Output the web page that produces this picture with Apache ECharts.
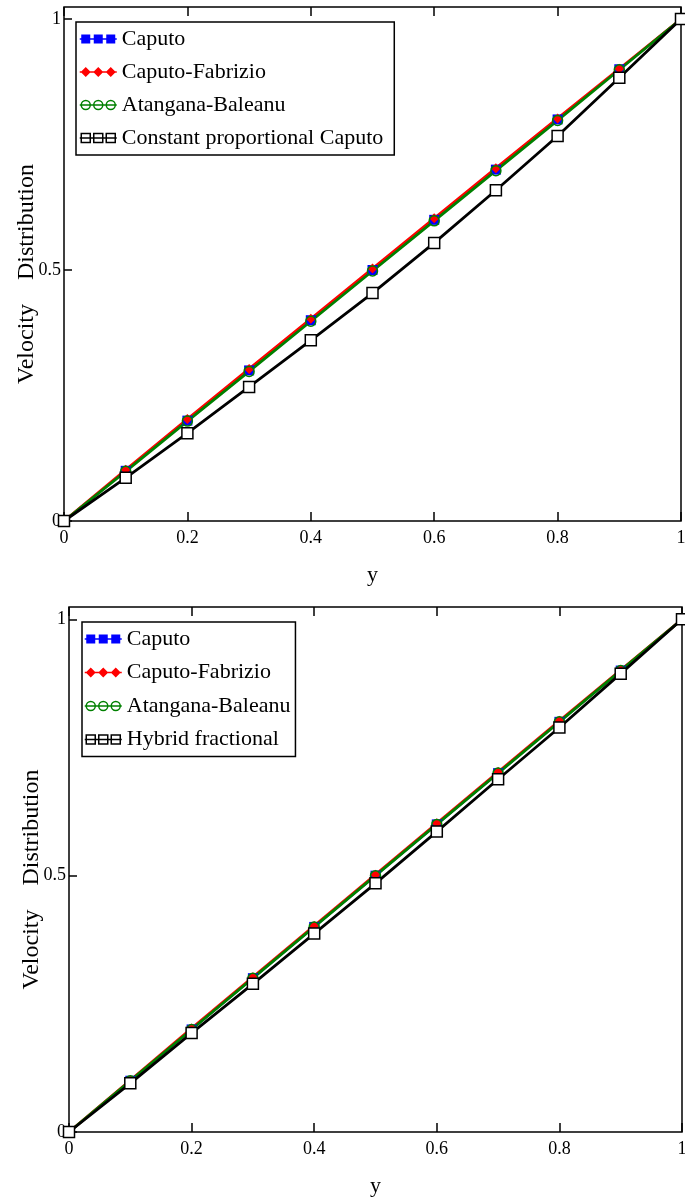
<!DOCTYPE html>
<html>
<head>
<meta charset="utf-8">
<script src="https://cdn.jsdelivr.net/npm/echarts@6/dist/echarts.min.js"></script>
<style>
  html, body { margin: 0; padding: 0; background: #fff; }
  #chart { width: 685px; height: 1200px; }
</style>
</head>
<body>
<div id="chart"></div>
<script>
// ---- data ----
const xValues = [0, 0.1, 0.2, 0.3, 0.4, 0.5, 0.6, 0.7, 0.8, 0.9, 1];
const xTickLabels = ['0', '0.2', '0.4', '0.6', '0.8', '1'];
const yTickValues = [0, 0.5, 1];

// top panel
const caputoTop = [0, 0.100, 0.200, 0.300, 0.400, 0.500, 0.600, 0.700, 0.800, 0.900, 1];
const cfTop     = [0, 0.102, 0.203, 0.303, 0.403, 0.503, 0.603, 0.703, 0.802, 0.901, 1];
const abTop     = [0, 0.099, 0.199, 0.298, 0.398, 0.498, 0.598, 0.698, 0.798, 0.899, 1];
const cpcTop    = [0, 0.086, 0.175, 0.267, 0.360, 0.454, 0.554, 0.659, 0.767, 0.883, 1];

// bottom panel
const caputoBot = [0, 0.100, 0.200, 0.300, 0.400, 0.500, 0.600, 0.700, 0.800, 0.900, 1];
const cfBot     = [0, 0.101, 0.202, 0.302, 0.402, 0.502, 0.602, 0.702, 0.802, 0.901, 1];
const abBot     = [0, 0.100, 0.200, 0.300, 0.400, 0.500, 0.600, 0.700, 0.800, 0.900, 1];
const hybridBot = [0, 0.095, 0.193, 0.289, 0.387, 0.485, 0.586, 0.688, 0.789, 0.894, 1];

const namesTop = ['Caputo', 'Caputo-Fabrizio', 'Atangana-Baleanu', 'Constant proportional Caputo'];
const namesBot = ['Caputo', 'Caputo-Fabrizio', 'Atangana-Baleanu', 'Hybrid fractional'];
const yAxisTitle = 'Velocity    Distribution';
const xAxisTitle = 'y';

// ---- styling ----
const FONT = 'Liberation Serif';
const BLUE = '#0000ff', RED = '#ff0000', GREEN = '#008000', BLACK = '#000000';

const pairs = (ys) => xValues.map((x, i) => [x, ys[i]]);

// legend icons (line with three markers), 37 x 10
const iconSquares = 'path://M0,4.2L37,4.2L37,5.8L0,5.8Z M1.5,0.5L10.5,0.5L10.5,9.5L1.5,9.5Z M14,0.5L23,0.5L23,9.5L14,9.5Z M26.5,0.5L35.5,0.5L35.5,9.5L26.5,9.5Z';
const iconDiamonds = 'path://M0,4.2L37,4.2L37,5.8L0,5.8Z M6,0L11,5L6,10L1,5Z M18.5,0L23.5,5L18.5,10L13.5,5Z M31,0L36,5L31,10L26,5Z';
const iconCircles = 'path://M0,5L37,5 M10.5,5A4.5,4.5,0,1,1,1.5,5A4.5,4.5,0,1,1,10.5,5Z M23,5A4.5,4.5,0,1,1,14,5A4.5,4.5,0,1,1,23,5Z M35.5,5A4.5,4.5,0,1,1,26.5,5A4.5,4.5,0,1,1,35.5,5Z';
const iconOpenSquares = 'path://M0,5L37,5 M1.5,0.5L10.5,0.5L10.5,9.5L1.5,9.5Z M14,0.5L23,0.5L23,9.5L14,9.5Z M26.5,0.5L35.5,0.5L35.5,9.5L26.5,9.5Z';

function legendData(names) {
  return [
    { name: names[0], icon: iconSquares, itemStyle: { color: BLUE, borderWidth: 0 } },
    { name: names[1], icon: iconDiamonds, itemStyle: { color: RED, borderWidth: 0 } },
    { name: names[2], icon: iconCircles, itemStyle: { color: 'rgba(0,0,0,0)', borderColor: GREEN, borderWidth: 1.5 } },
    { name: names[3], icon: iconOpenSquares, itemStyle: { color: 'rgba(0,0,0,0)', borderColor: BLACK, borderWidth: 1.5 } }
  ];
}

function makeSeries(names, data, xIdx, yIdx) {
  return [
    { name: names[0], type: 'line', xAxisIndex: xIdx, yAxisIndex: yIdx, data: pairs(data[0]),
      symbol: 'rect', symbolSize: 10, itemStyle: { color: BLUE }, lineStyle: { color: BLUE, width: 2 } },
    { name: names[1], type: 'line', xAxisIndex: xIdx, yAxisIndex: yIdx, data: pairs(data[1]),
      symbol: 'diamond', symbolSize: 10, itemStyle: { color: RED }, lineStyle: { color: RED, width: 2.8 } },
    { name: names[2], type: 'line', xAxisIndex: xIdx, yAxisIndex: yIdx, data: pairs(data[2]),
      symbol: 'circle', symbolSize: 10, itemStyle: { color: 'rgba(0,0,0,0)', borderColor: GREEN, borderWidth: 1.5 },
      lineStyle: { color: GREEN, width: 2.8 } },
    { name: names[3], type: 'line', xAxisIndex: xIdx, yAxisIndex: yIdx, data: pairs(data[3]),
      symbol: 'rect', symbolSize: 11, itemStyle: { color: '#ffffff', borderColor: BLACK, borderWidth: 1.5 },
      lineStyle: { color: BLACK, width: 2.8 } }
  ];
}

function xBottom(gridIndex) {
  return {
    type: 'value', gridIndex, position: 'bottom', min: 0, max: 1, interval: 0.2,
    name: xAxisTitle, nameLocation: 'middle', nameGap: 43, nameMoveOverlap: false,
    nameTextStyle: { fontFamily: FONT, fontSize: 22, color: '#000' },
    axisLine: { show: false },
    axisTick: { show: true, inside: true, length: 9, lineStyle: { color: '#000', width: 1.5 } },
    axisLabel: { show: true, margin: 8, fontFamily: FONT, fontSize: 18, color: '#000',
      formatter: (v) => { const i = Math.round(v / 0.2); return xTickLabels[i] !== undefined ? xTickLabels[i] : ''; } },
    splitLine: { show: false }
  };
}
function xTop(gridIndex) {
  return {
    type: 'value', gridIndex, position: 'top', min: 0, max: 1, interval: 0.2,
    axisLine: { show: false },
    axisTick: { show: true, inside: true, length: 9, lineStyle: { color: '#000', width: 1.5 } },
    axisLabel: { show: false },
    splitLine: { show: false }
  };
}
function yLeft(gridIndex) {
  return {
    type: 'value', gridIndex, min: 0, max: 1.024, interval: 0.5,
    name: yAxisTitle, nameLocation: 'middle', nameGap: 25, nameRotate: 90, nameMoveOverlap: false,
    nameTextStyle: { fontFamily: FONT, fontSize: 24, color: '#000', padding: [0, 20, 0, 0] },
    axisLine: { show: false },
    axisTick: { show: true, inside: true, length: 8, customValues: yTickValues, lineStyle: { color: '#000', width: 1.5 } },
    axisLabel: { show: true, margin: 3, fontFamily: FONT, fontSize: 18, color: '#000', customValues: yTickValues,
      formatter: (v) => (yTickValues.indexOf(v) >= 0 ? String(v) : '') },
    splitLine: { show: false }
  };
}

const legendCommon = {
  orient: 'vertical', backgroundColor: '#ffffff', borderColor: '#000', borderWidth: 1.5,
  itemWidth: 37, itemHeight: 10,
  textStyle: { fontFamily: FONT, fontSize: 22, color: '#000', lineHeight: 22 },
  selectedMode: false
};

const gridCommon = { show: true, borderColor: '#000', borderWidth: 1.5, backgroundColor: 'rgba(0,0,0,0)',
  containLabel: false, outerBoundsMode: 'none' };

const option = {
  animation: false,
  backgroundColor: '#ffffff',
  grid: [
    Object.assign({ left: 64, right: 4, top: 7, bottom: 679 }, gridCommon),
    Object.assign({ left: 69, right: 3, top: 607, bottom: 68 }, gridCommon)
  ],
  xAxis: [xBottom(0), xTop(0), xBottom(1), xTop(1)],
  yAxis: [yLeft(0), yLeft(1)],
  legend: [
    Object.assign({}, legendCommon, { left: 76, top: 22, padding: [6, 11, 6, 3], itemGap: 11, itemTextGap: 8,
      data: legendData(namesTop) }),
    Object.assign({}, legendCommon, { left: 82, top: 622, padding: [6, 5, 6, 2], itemGap: 11.5, itemTextGap: 11,
      data: legendData(namesBot) })
  ],
  series: [
    ...makeSeries(namesTop, [caputoTop, cfTop, abTop, cpcTop], 0, 0),
    ...makeSeries(namesBot, [caputoBot, cfBot, abBot, hybridBot], 2, 1)
  ]
};

const chart = echarts.init(document.getElementById('chart'), null, { renderer: 'canvas' });
chart.setOption(option);
</script>
</body>
</html>
